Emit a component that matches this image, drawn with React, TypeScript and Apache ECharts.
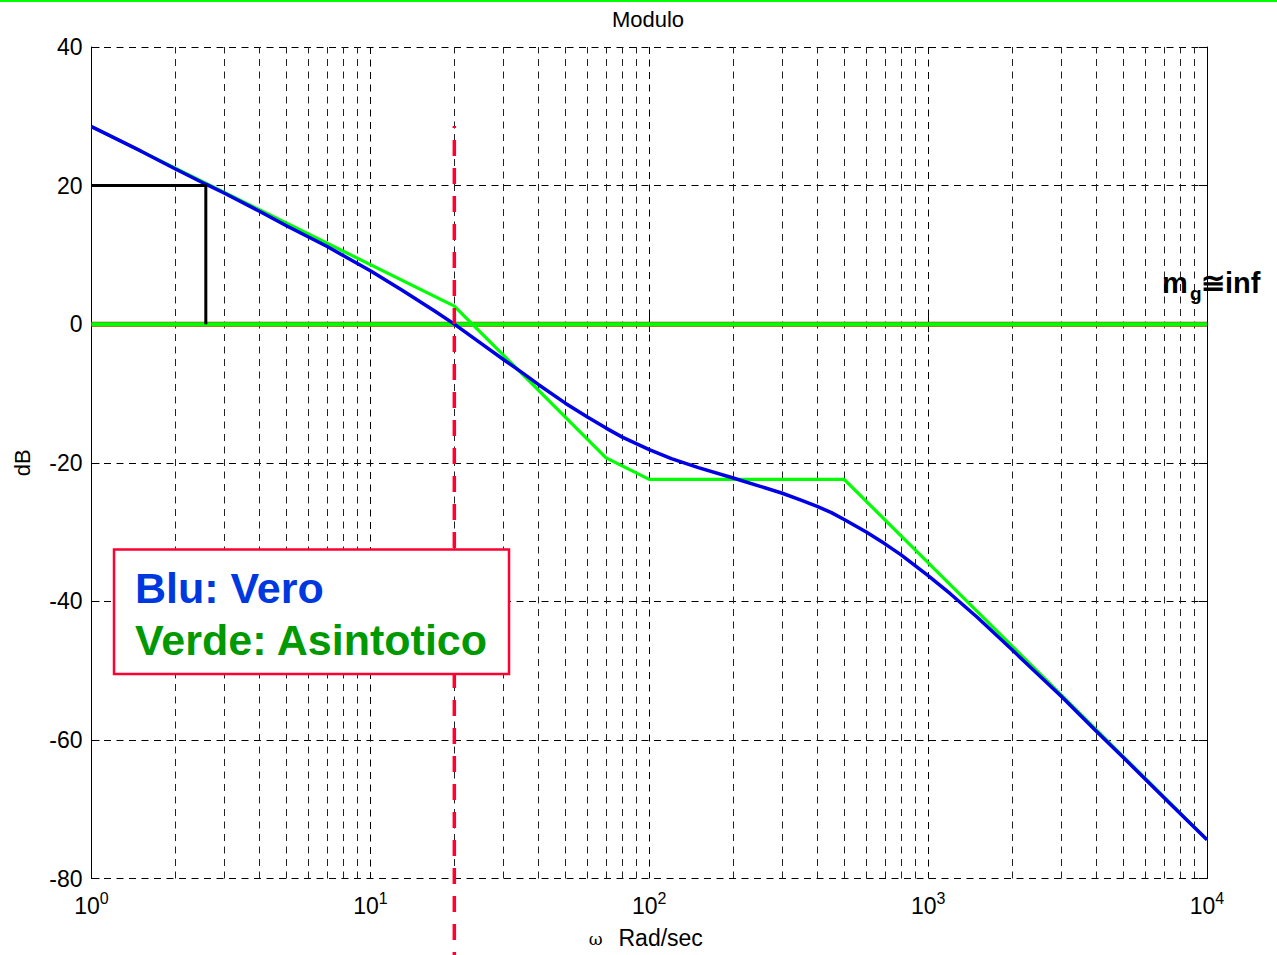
import React, { useEffect, useRef } from "react";
import * as echarts from "echarts";

// ---- data ----
const omegaTrue = [1, 1.5, 2, 2.57, 3, 4, 5, 7, 10, 13, 17, 20, 25, 30, 35, 40, 50, 60, 70, 80, 100, 120, 150, 200, 250, 300, 350, 400, 450, 500, 600, 700, 800, 1000, 1200, 1500, 2000, 3000, 4000, 5000, 7000, 10000];
const dbTrue = [28.5, 25.0, 22.4, 20.2, 18.9, 16.3, 14.2, 11.2, 7.7, 4.9, 1.9, 0, -2.8, -5.1, -7.0, -8.7, -11.4, -13.4, -15.0, -16.3, -18.1, -19.4, -20.7, -22.2, -23.4, -24.4, -25.4, -26.3, -27.2, -28.2, -30.0, -31.7, -33.3, -36.3, -38.9, -42.3, -47.0, -53.7, -58.7, -62.5, -68.3, -74.4];

const omegaAsym = [1, 20, 70, 100, 500, 10000];
const dbAsym = [28.5, 2.6, -19.3, -22.4, -22.4, -74.4];

const omegaZero = [1, 10000];
const dbZero = [0, 0];

const omegaMarker = [1, 2.57, 2.57];
const dbMarker = [20, 20, 0];

const omegaCross = [20, 20];
const dbCross = [28.6, -91.5];

const yTicks = [40, 20, 0, -20, -40, -60, -80];
const decades = [1, 10, 100, 1000];
const minorMultipliers = [2, 3, 4, 5, 6, 7, 8, 9];

const FONT = '"Liberation Sans", Arial, Helvetica, sans-serif';

function pairs(xs: number[], ys: number[]) {
  return xs.map((x, i) => [x, ys[i]]);
}

export default function App() {
  const ref = useRef<HTMLDivElement>(null);

  useEffect(() => {
    if (!ref.current) return;
    const chart = echarts.init(ref.current, null, { renderer: "svg" });

    const minorLines: any[] = [];
    decades.forEach((d) => minorMultipliers.forEach((k) => minorLines.push({ xAxis: d * k })));

    const gridDash = [7, 5.5];

    const option: any = {
      animation: false,
      backgroundColor: "#ffffff",
      grid: {
        left: 91.5,
        top: 47,
        right: 70,
        bottom: 76.5,
        containLabel: false,
        outerBoundsMode: "none",
        show: false,
      },
      xAxis: [
        {
          type: "log",
          logBase: 10,
          min: 1,
          max: 10000,
          position: "bottom",
          axisLine: { show: true, lineStyle: { color: "#000", width: 1 } },
          axisTick: { show: true, inside: true, length: 8, lineStyle: { color: "#000" } },
          splitLine: { show: true, lineStyle: { color: "#000", width: 1, type: gridDash } },
          axisLabel: {
            margin: 12,
            color: "#000",
            formatter: (v: number) => `{b|10}{s|${Math.round(Math.log10(v))}}`,
            rich: {
              b: { fontSize: 23, fontFamily: FONT, color: "#000" },
              s: { fontSize: 16, fontFamily: FONT, color: "#000", padding: [0, 0, 14, 0] },
            },
          },
          name: "{w|ω}{r|Rad/sec}",
          nameLocation: "middle",
          nameGap: 48,
          nameTextStyle: {
            rich: {
              w: { fontFamily: '"DejaVu Serif", "Liberation Serif", serif', fontSize: 17, color: "#000", padding: [2, 16, 0, 0] },
              r: { fontFamily: FONT, fontSize: 23, color: "#000", padding: [0, 7, 0, 0] },
            },
          },
        },
        {
          type: "log",
          logBase: 10,
          min: 1,
          max: 10000,
          position: "top",
          axisLine: { show: true, lineStyle: { color: "#000", width: 1 } },
          axisTick: { show: true, inside: true, length: 8, lineStyle: { color: "#000" } },
          splitLine: { show: false },
          axisLabel: { show: false },
        },
      ],
      yAxis: [
        {
          type: "value",
          min: -80,
          max: 40,
          interval: 20,
          position: "left",
          axisLine: { show: true, lineStyle: { color: "#000", width: 1 } },
          axisTick: { show: true, inside: true, length: 8, lineStyle: { color: "#000" } },
          splitLine: { show: true, lineStyle: { color: "#000", width: 1, type: gridDash } },
          axisLabel: {
            margin: 9,
            color: "#000",
            fontSize: 23,
            fontFamily: FONT,
            formatter: (v: number) => (yTicks.includes(v) ? String(v) : ""),
          },
          name: "dB",
          nameLocation: "middle",
          nameRotate: 90,
          nameGap: 58,
          nameTextStyle: { fontSize: 22, fontFamily: FONT, color: "#000" },
        },
        {
          type: "value",
          min: -80,
          max: 40,
          interval: 20,
          position: "right",
          axisLine: { show: true, lineStyle: { color: "#000", width: 1 } },
          axisTick: { show: true, inside: true, length: 8, lineStyle: { color: "#000" } },
          splitLine: { show: false },
          axisLabel: { show: false },
        },
      ],
      series: [
        {
          name: "zeroUnder",
          type: "line",
          data: pairs(omegaZero, dbZero),
          symbol: "none",
          lineStyle: { color: "#cc2200", width: 5 },
          z: 3,
          silent: true,
          markLine: {
            silent: true,
            symbol: ["none", "none"],
            label: { show: false },
            lineStyle: { color: "#222", width: 1, type: gridDash },
            emphasis: { disabled: true },
            data: minorLines,
            z: 1,
          },
        },
        {
          name: "zero",
          type: "line",
          data: pairs(omegaZero, dbZero),
          symbol: "none",
          lineStyle: { color: "#00ff00", width: 4 },
          z: 4,
          silent: true,
        },
        {
          name: "Asintotico",
          type: "line",
          data: pairs(omegaAsym, dbAsym),
          symbol: "none",
          lineStyle: { color: "#00ff00", width: 3.2 },
          z: 5,
          silent: true,
        },
        {
          name: "Vero",
          type: "line",
          data: pairs(omegaTrue, dbTrue),
          symbol: "none",
          smooth: false,
          lineStyle: { color: "#0000e6", width: 3.5 },
          z: 6,
          silent: true,
        },
        {
          name: "marker",
          type: "line",
          data: pairs(omegaMarker, dbMarker),
          symbol: "none",
          lineStyle: { color: "#000", width: 3 },
          z: 7,
          silent: true,
        },
        {
          name: "cross",
          type: "line",
          data: pairs(omegaCross, dbCross),
          symbol: "none",
          clip: false,
          lineStyle: { color: "#ff0033", width: 3.5, type: [16, 12], dashOffset: 14 },
          z: 8,
          silent: true,
        },
      ],
      graphic: [
        { type: "rect", z: 100, shape: { x: 0, y: 0, width: 1277, height: 2 }, style: { fill: "#00ff00" } },
        {
          type: "text",
          z: 100,
          style: { x: 648, y: 19, text: "Modulo", font: `22px ${FONT}`, fill: "#000", align: "center", verticalAlign: "middle" },
        },
        {
          type: "rect",
          z: 100,
          shape: { x: 114, y: 549.5, width: 395, height: 124.5 },
          style: { fill: "#fff", stroke: "#ff0033", lineWidth: 2.5 },
        },
        {
          type: "text",
          z: 101,
          style: { x: 135, y: 588, text: "Blu: Vero", font: `bold 43px ${FONT}`, fill: "#0038e0", align: "left", verticalAlign: "middle" },
        },
        {
          type: "text",
          z: 101,
          style: { x: 135, y: 640, text: "Verde: Asintotico", font: `bold 43px ${FONT}`, fill: "#009900", align: "left", verticalAlign: "middle" },
        },
        {
          type: "text",
          z: 101,
          style: { x: 1162, y: 283, text: "m", font: `bold 29px ${FONT}`, fill: "#000", align: "left", verticalAlign: "middle" },
        },
        {
          type: "text",
          z: 101,
          style: { x: 1190, y: 293, text: "g", font: `bold 19px ${FONT}`, fill: "#000", align: "left", verticalAlign: "middle" },
        },
        {
          type: "text",
          z: 101,
          style: { x: 1201, y: 283, text: "≅inf", font: `bold 29px ${FONT}`, fill: "#000", align: "left", verticalAlign: "middle" },
        },
      ],
    };

    chart.setOption(option);
    return () => chart.dispose();
  }, []);

  return (
    <div
      ref={ref}
      style={{ position: "fixed", left: 0, top: 0, width: 1277, height: 955, background: "#fff" }}
    />
  );
}
